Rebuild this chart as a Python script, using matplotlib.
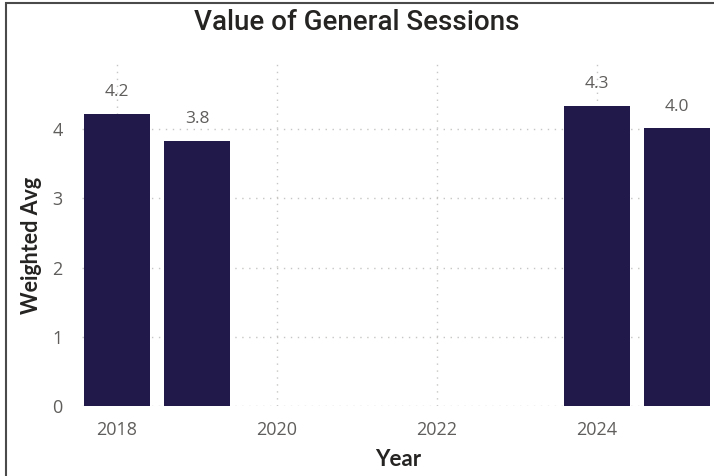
import matplotlib
matplotlib.use('Agg')
import matplotlib.pyplot as plt
from matplotlib.patches import Rectangle

# chart data
years = [2018, 2019, 2024, 2025]
weighted_avg = [4.22, 3.83, 4.34, 4.01]
x_ticks = [2018, 2020, 2022, 2024]
y_ticks = [0, 1, 2, 3, 4]

plt.rcParams['font.family'] = ['Open Sans', 'DejaVu Sans']

fig = plt.figure(figsize=(7.14, 4.76), dpi=100)
fig.patch.set_facecolor('white')

# visual border (left and top edges visible)
fig.patches.append(Rectangle((6 / 714, -0.1), 1.2, 1 - 3 / 476 + 0.1, transform=fig.transFigure,
                             fill=False, edgecolor='#4a4a4a', linewidth=1.5))

ax = fig.add_axes([82 / 714, 1 - 406 / 476, 632 / 714, 344 / 476])
ax.bar(years, weighted_avg, width=0.825, color='#21194a', zorder=3)

for x, v in zip(years, weighted_avg):
    ax.text(x, v + 0.2, f'{v:.1f}', ha='center', va='bottom', fontsize=12.5, color='#605E5C', zorder=4)

ax.set_xlim(2017.5625, 2025.4625)
ax.set_ylim(0, 4.97)
ax.set_xticks(x_ticks)
ax.set_yticks(y_ticks)
ax.tick_params(length=0, labelsize=13, labelcolor='#605E5C')
ax.tick_params(axis='x', pad=11)
ax.tick_params(axis='y', pad=14)
ax.grid(True, color='#C8C6C4', linestyle=(0, (1, 4)), linewidth=1, zorder=0)
for s in ax.spines.values():
    s.set_visible(False)

ax.set_xlabel('Year', fontsize=16, fontweight='bold', color='#252423', labelpad=7, family=['Lato', 'DejaVu Sans'])
ax.set_ylabel('Weighted Avg', fontsize=15.5, fontweight='bold', color='#252423', family=['Lato', 'DejaVu Sans'])
ax.yaxis.set_label_coords(-40 / 632, 0.468)
fig.text(0.5, 1 - 30 / 476, 'Value of General Sessions', ha='center', va='baseline',
         fontsize=20, fontweight='medium', color='#252423', family=['Roboto', 'DejaVu Sans'])

fig.savefig('out.png', dpi=100)
